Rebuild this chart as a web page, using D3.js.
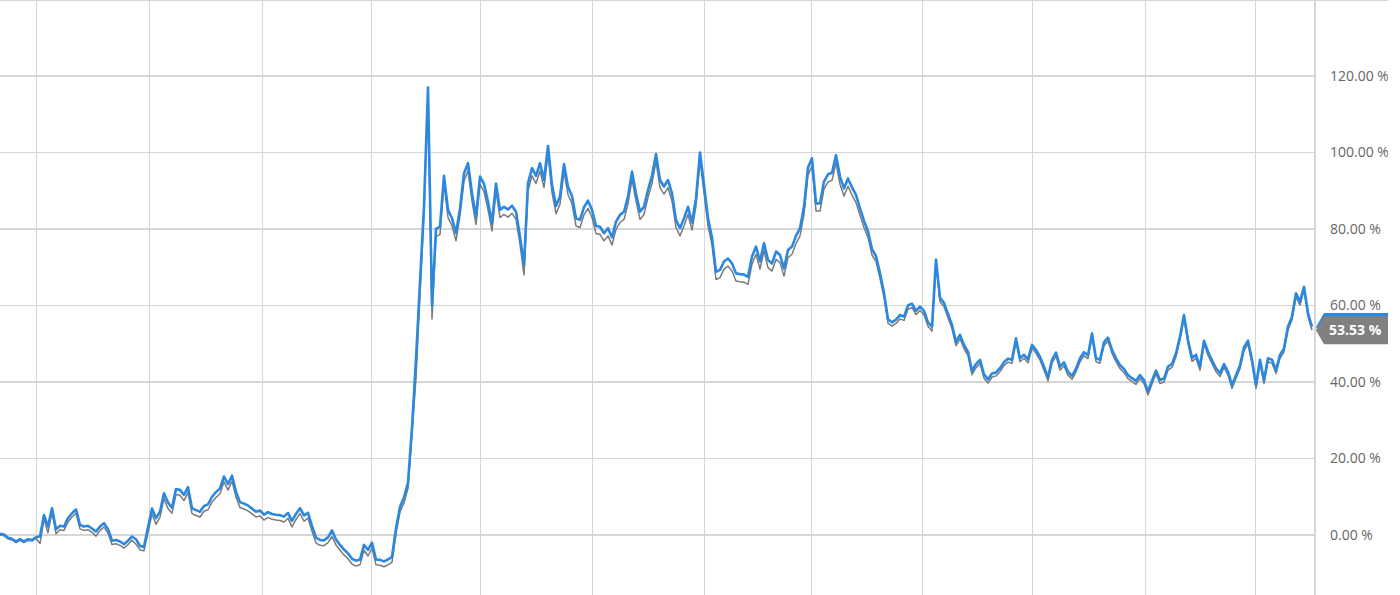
<!DOCTYPE html>
<html><head><meta charset="utf-8">
<script src="https://cdn.jsdelivr.net/npm/d3@7"></script>
<style>html,body{margin:0;padding:0;background:#fff;overflow:hidden}svg{display:block}</style>
</head><body><div id="chart"></div>
<script>
// Blue series (%), sampled evenly through time
const blueSeries = [
0.3,0.1,-0.7,-1.0,-1.7,-1.1,-1.7,-1.1,-1.3,-0.6,
-0.3,5.2,2.2,7.0,1.5,2.4,2.2,4.4,5.7,6.7,
2.6,2.2,2.4,1.7,0.9,2.2,3.1,1.5,-1.5,-1.3,
-1.7,-2.4,-1.5,-0.4,-1.1,-2.9,-3.1,2.0,6.9,4.4,
6.1,10.9,8.5,7.1,12.0,11.8,10.5,12.5,7.0,6.5,
6.1,7.6,8.0,10.0,11.2,12.2,15.3,13.3,15.5,11.3,
8.6,8.2,7.7,6.9,6.1,6.4,5.3,6.0,5.5,5.3,
5.2,4.8,5.8,3.7,5.5,7.0,5.1,5.8,2.4,-0.7,
-1.3,-1.4,-0.6,1.2,-1.2,-2.6,-3.8,-4.8,-6.2,-6.7,
-6.4,-2.6,-3.9,-2.0,-6.4,-6.5,-6.9,-6.4,-5.7,1.7,
7.4,9.8,13.7,28,46,66,86,117,60,80,
80.6,93.9,85.0,82.8,78.9,85.4,94.6,97.2,89.3,83.2,
93.7,91.8,87.1,81.5,91.9,85.0,85.8,85.1,86.1,84.5,
78.0,70.6,92,95.9,93.9,97.2,92.8,101.7,91.5,86.0,
88.5,97,91,88.6,82.8,82.4,85.7,87.4,85.0,80.8,
80.6,78.9,80.2,77.8,81.9,83.7,84.5,88.5,95.0,89.3,
84.5,85.8,90.2,93.9,99.6,92.8,91.1,92.8,89.3,82.4,
80.2,82.8,85.8,81.7,88.0,100,91.5,82.8,77.8,68.8,
69.3,71.5,72.3,71.0,68.4,68.2,68.1,67.5,72.8,75.4,
71.5,76.3,71.9,71.0,74.1,73.2,69.7,74.5,75.4,78.2,
80.2,85.8,96.1,98.5,86.7,86.7,92.4,94.3,94.7,99.3,
93.7,90.6,93.2,90.9,88.9,85.4,82.1,79.4,74.7,72.9,
68.4,63.3,56.4,55.6,56.3,57.5,57.1,60.0,60.5,58.6,
59.7,58.6,55.6,54.5,72,62,60.7,57.8,54.9,50.5,
52.3,49.7,47.9,42.9,44.7,45.8,42.0,40.7,42.2,42.5,
43.6,45.2,46.1,45.8,51.4,46.2,47.1,45.9,49.7,48.4,
46.6,44.0,41.2,45.8,47.7,44.0,45.1,42.7,41.6,43.5,
46.2,47.8,47.0,52.7,46.2,45.8,50.4,51.6,48.4,46.2,
44.4,43.4,41.8,41.0,40.3,41.8,40.5,37.5,40.4,43.0,
40.5,40.9,44.0,44.7,47.5,51.9,57.5,51.0,46.3,47.1,
44.0,50.8,47.9,45.7,43.6,42.3,44.7,42.7,39.2,41.8,
44.4,49.1,50.8,45.8,39.2,45.8,40.5,46.2,45.8,43.1,
47.1,48.8,54.5,57.1,63.2,61.0,64.9,58.0,54.4
];
// Gray series (%), same dates
const graySeries = [
0.0,-0.2,-1.0,-1.3,-2.0,-1.4,-2.0,-1.4,-1.6,-0.9,
-2.2,4.2,0.6,6.0,0.3,1.4,1.2,3.4,4.7,5.7,
1.6,1.2,1.4,0.7,-0.3,1.2,2.1,0.5,-2.5,-2.3,
-2.7,-3.4,-2.5,-1.4,-2.4,-3.9,-4.1,0.6,5.5,2.8,
4.7,9.5,6.9,5.7,10.6,10.4,9.0,11.1,5.6,5.1,
4.7,6.2,6.6,8.6,9.8,10.8,13.9,11.7,14.1,9.9,
7.2,6.8,6.3,5.5,4.7,5.0,3.9,4.6,4.1,3.9,
3.8,3.4,4.4,2.1,4.1,5.6,3.6,4.4,1.0,-2.1,
-2.7,-2.8,-2.0,-0.4,-2.6,-4.0,-5.2,-6.2,-7.6,-8.1,
-7.8,-4.0,-5.5,-3.4,-7.8,-7.9,-8.3,-7.8,-7.1,0.3,
6.0,8.4,12.2,26.5,41,63,84,115,56.5,78,
78.6,91.9,83.0,80.8,76.9,83.4,92.6,95.2,87.3,81.2,
91.7,89.8,85.1,79.5,89.9,83.0,83.8,83.1,84.1,82.5,
76.0,68.0,90,93.9,91.9,95.2,90.8,99.7,89.5,84.0,
86.5,95,89,86.6,80.8,80.4,83.7,85.4,83.0,78.8,
78.6,76.9,78.2,75.8,79.9,81.7,82.5,86.5,93.0,87.3,
82.5,83.8,88.2,91.9,97.6,90.8,89.1,90.8,87.3,80.4,
78.2,80.8,83.8,79.7,86.0,98,89.5,80.8,75.8,66.8,
67.3,69.5,70.3,69.0,66.4,66.2,66.1,65.5,70.8,73.4,
69.5,74.3,69.9,69.0,72.1,71.2,67.7,72.5,73.4,76.2,
78.2,83.8,94.1,96.5,84.7,84.7,90.4,92.3,92.7,97.3,
91.7,88.6,91.2,88.9,86.9,83.6,80.4,77.8,73.2,71.5,
67.1,62.2,55.4,54.6,55.3,56.5,56.1,59.0,59.5,57.6,
58.7,57.6,54.6,53.3,71,61,59.7,56.8,53.9,49.5,
51.3,48.7,46.9,41.9,43.7,44.8,41.0,39.7,41.3,41.6,
42.7,44.3,45.2,44.9,50.5,45.3,46.2,45.0,48.8,47.5,
45.7,43.1,40.3,44.9,46.8,43.1,44.2,41.8,40.7,42.6,
45.3,46.9,46.1,51.8,45.3,44.9,49.5,50.7,47.5,45.3,
43.5,42.5,40.9,40.1,39.4,40.9,39.6,36.6,39.5,42.1,
39.6,40.0,43.1,43.8,46.6,51.0,56.6,50.1,45.4,46.2,
43.1,49.9,47.0,44.8,42.7,41.4,43.8,41.8,38.3,40.9,
43.5,48.2,49.9,44.9,38.3,44.9,39.6,45.3,44.9,42.2,
46.2,47.9,53.6,56.2,62.3,60.1,64.0,57.1,53.53
];
// Y-axis tick values (%)
const yTicks = [0, 20, 40, 60, 80, 100, 120];
// Quarter-start positions on the sample index (vertical grid)
const xGridAt = [9.2, 37.3, 65.7, 92.9, 120.1, 148.2, 176.1, 202.9, 230.6, 258.2, 286.3, 313.9];

const W = 1400, H = 595;
const plotRight = 1315, clipRight = 1388;
const fmt = v => d3.format(".2f")(v) + " %";

const svg = d3.select("#chart").append("svg").attr("width", W).attr("height", H);
svg.append("defs").append("clipPath").attr("id", "c")
  .append("rect").attr("x", 0).attr("y", 0).attr("width", clipRight).attr("height", H);
const root = svg.append("g").attr("clip-path", "url(#c)");

const x = d3.scaleLinear().domain([0, blueSeries.length - 1]).range([0, 1312]);
const y = d3.scaleLinear().domain([0, 120]).range([535, 76]);

const grid = root.append("g").attr("stroke", "#d6d6d6").attr("stroke-width", 1.2).attr("shape-rendering", "crispEdges");
grid.selectAll("line.h").data(yTicks).join("line").attr("class", "h")
  .attr("x1", 0).attr("x2", plotRight).attr("y1", d => y(d)).attr("y2", d => y(d));
grid.selectAll("line.v").data(xGridAt).join("line").attr("class", "v")
  .attr("x1", d => x(d)).attr("x2", d => x(d)).attr("y1", 0).attr("y2", H);
grid.append("line").attr("x1", plotRight).attr("x2", plotRight).attr("y1", 0).attr("y2", H);
grid.append("line").attr("x1", 0).attr("x2", clipRight).attr("y1", 0.5).attr("y2", 0.5);

// Y axis on the right
const yAxis = d3.axisRight(y).tickValues(yTicks).tickSize(0).tickPadding(15).tickFormat(fmt);
const ax = root.append("g").attr("transform", `translate(${plotRight},0)`).call(yAxis);
ax.select(".domain").remove();
ax.selectAll("text").attr("fill", "#666").style("font-family", "'Open Sans', sans-serif").style("font-size", "14px");

const line = d3.line().x((d, i) => x(i)).y(d => y(d));
root.append("path").datum(graySeries).attr("d", line).attr("fill", "none")
  .attr("stroke", "#7a7a7a").attr("stroke-width", 1.5).attr("stroke-linejoin", "round");
root.append("path").datum(blueSeries).attr("d", line).attr("fill", "none")
  .attr("stroke", "#2a88e0").attr("stroke-width", 2.6).attr("stroke-linejoin", "round");

// End-value markers: blue one sits behind the gray one, only gray's value is legible
function endMarker(v, color, withText) {
  const cy = y(v), h = 28, tip = plotRight + 1, bx = plotRight + 9;
  const g = root.append("g");
  g.append("path").attr("d", `M${tip},${cy} L${bx},${cy - h / 2} L${clipRight},${cy - h / 2} L${clipRight},${cy + h / 2} L${bx},${cy + h / 2} Z`)
    .attr("fill", color);
  if (withText) {
    g.append("text").attr("x", plotRight + 14).attr("y", cy).attr("dy", "0.35em")
      .attr("fill", "#fff").style("font-family", "'Open Sans', sans-serif").style("font-size", "14px").style("font-weight", "700")
      .text(fmt(v));
  }
}
endMarker(blueSeries[blueSeries.length - 1], "#2a88e0", false);
endMarker(graySeries[graySeries.length - 1], "#808080", true);
</script></body></html>
